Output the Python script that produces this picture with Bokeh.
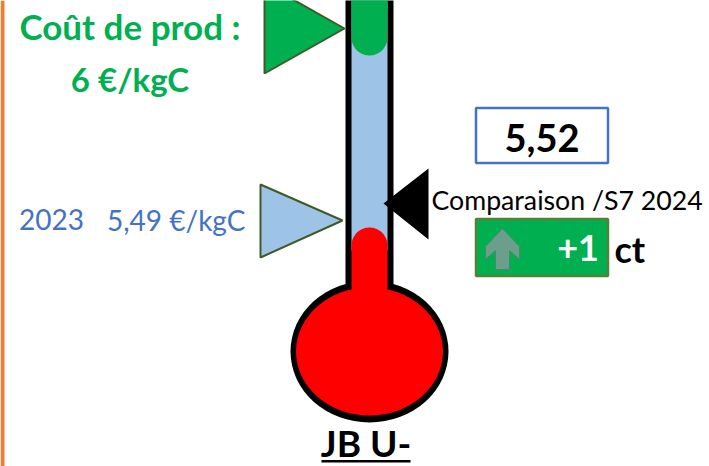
import numpy as np
from bokeh.plotting import figure
from bokeh.models import Range1d
from bokeh.core.properties import value
from bokeh.embed import file_html
from bokeh.resources import INLINE

# Values and labels
series_labels = ["Coût de prod :", "6 €/kgC", "2023   5,49 €/kgC", "5,52", "Comparaison /S7 2024", "+1", "ct", "JB U-"]
cost_of_production = 6.0
price_2023 = 5.49
price_current = 5.52
change_ct = 1

FONT = value("Lato")
GREEN = "#00B050"
BLUE = "#4472C4"
LIGHT = "#9DC3E6"
OLIVE = "#3F5A26"
RED = "#FF0000"

W, H = 709, 466
p = figure(width=W, height=H, output_backend="svg", toolbar_location=None,
           x_range=Range1d(0, W), y_range=Range1d(H, 0), min_border=0,
           background_fill_color="white", border_fill_color="white")
p.axis.visible = False
p.grid.visible = False
p.outline_line_color = None


def box(x0, x1, y0, y1, **kw):
    p.quad(left=x0, right=x1, top=y0, bottom=y1, **kw)


def label(x, y, s, size, color, bold=False, align="left"):
    p.text(x=[x], y=[y], text=[s], text_font=FONT, text_font_size=f"{size:.1f}px",
           text_color=color, text_align=align, text_baseline="middle",
           text_font_style="bold" if bold else "normal")


def arc(cx, cy, rx, ry, a0, a1, n=40):
    t = np.radians(np.linspace(a0, a1, n))
    return cx + rx * np.cos(t), cy + ry * np.sin(t)


# Orange rule on the left
box(0, 4, 0, H, fill_color="#ED7D31", line_color=None)

# Thermometer shell
CX = 369
p.ellipse(x=[CX], y=[351], width=158, height=142, fill_color="black", line_color=None)
box(345, 393, -5, 300, fill_color="black", line_color=None)
p.ellipse(x=[CX], y=[351], width=147, height=128, fill_color=RED, line_color=None)

# Light blue column
box(351, 387, -5, 250, fill_color=LIGHT, line_color=None)

# Red level with rounded top
ax, ay = arc(CX, 245, 18, 18, 180, 360)
p.patch(np.r_[351, ax, 387, 387, 351], np.r_[310, ay, 245, 310, 310], fill_color=RED, line_color=None)

# Green level with rounded bottom
gx, gy = arc(CX, 37, 18, 18, 0, 180)
p.patch(np.r_[387, gx, 351, 351, 387], np.r_[-5, gy, 37, -5, -5], fill_color=GREEN, line_color=None)

# Pointers
p.patch([264, 344, 264, 264], [-17, 28, 73, -17], fill_color=GREEN, line_color=OLIVE, line_width=2)
p.patch([260, 342, 260, 260], [184, 220, 257, 184], fill_color=LIGHT, line_color=OLIVE, line_width=2)
p.patch([383, 428, 428, 383], [203, 168, 239, 203], fill_color="black", line_color=None)

# Boxes
box(475.5, 607.5, 107.5, 162.5, fill_color="white", line_color=BLUE, line_width=2.5)
box(475.5, 607.5, 218.5, 275.5, fill_color=GREEN, line_color="#548235", line_width=2.5)

# Arrow icon
p.patch([502, 519, 519, 509, 509, 495, 495, 485, 485, 502],
        [228, 246, 259, 250, 269, 269, 250, 259, 246, 228],
        fill_color="#6A9F8C", line_color="#4F8573", line_width=1)

# Texts
label(129.5, 25, series_labels[0], 35, GREEN, True, "center")
label(129.5, 78, series_labels[1], 33, GREEN, True, "center")
label(18.5, 219, "2023", 28, BLUE)
label(106.5, 219, "5,49 €/kgC", 28, BLUE)
label(541.5, 137, series_labels[3], 38, "black", True, "center")
label(431, 199, series_labels[4], 26.7, "black")
label(598.5, 247, f"+{change_ct}", 36, "white", True, "right")
label(614, 248, series_labels[6], 36, "black", True)
label(365.5, 442, series_labels[7], 37, "black", True, "center")
box(321, 410, 459.5, 462, fill_color="black", line_color=None)

open("out.html", "w").write(file_html(p, INLINE))
